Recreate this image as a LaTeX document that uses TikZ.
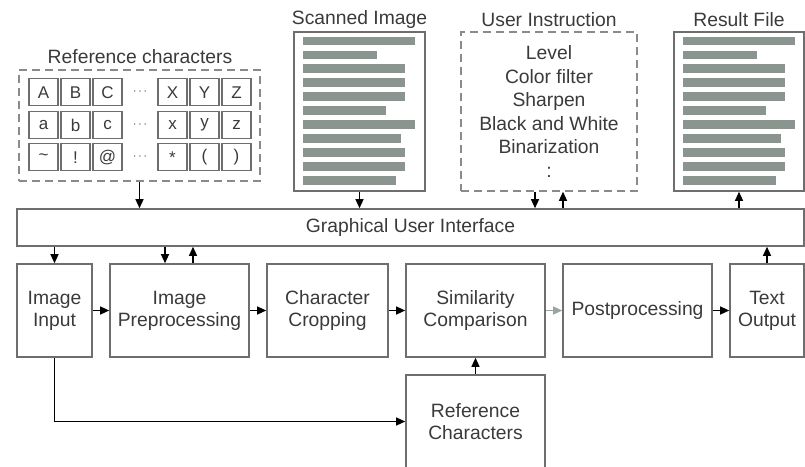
\documentclass[tikz,border=0pt]{standalone}
\usepackage{fontspec}
\setmainfont{Liberation Sans}
\usetikzlibrary{arrows.meta}
\definecolor{edge}{HTML}{6E6E6E}
\definecolor{txt}{HTML}{3A3A3A}
\definecolor{barc}{HTML}{8A958F}
\definecolor{dashc}{HTML}{8A8A8A}
\definecolor{lightarr}{HTML}{9AA59F}
\begin{document}
\begin{tikzpicture}[x=1pt,y=-1pt,
  box/.style={draw=edge, line width=1.6pt, text=txt, align=center, inner sep=0pt,
    font=\fontsize{19.3}{22}\selectfont},
  dbox/.style={draw=dashc, line width=1.5pt, dash pattern=on 8pt off 5pt, inner sep=0pt,
    text=txt, align=center, font=\fontsize{19.3}{23.6}\selectfont},
  title/.style={text=txt, inner sep=0pt, font=\fontsize{19.3}{22}\selectfont},
  cell/.style={draw=edge, line width=1.3pt, minimum width=29pt, minimum height=27pt,
    inner sep=0pt, text=txt, font=\fontsize{17}{20}\selectfont},
  arr/.style={-{Triangle[length=9pt,width=8pt]}, line width=1.2pt, black},
  garr/.style={-{Triangle[length=9pt,width=8pt]}, line width=1.2pt, lightarr}]
\useasboundingbox (0,0) rectangle (805,466);
\clip (0,0) rectangle (805,466);

% top items
\node[title] (t1) at (140,57) {Reference characters};
\node[title] (t2) at (359.5,20) {Scanned Image};
\node[title] (t3) at (549,20) {User Instruction};
\node[title] (t4) at (739,20) {Result File};

\node[dbox, minimum width=241pt, minimum height=111pt] (rcbox) at (139.5,125.5) {};
\foreach \x/\a/\b/\c [count=\j] in {43.5/A/a/\textasciitilde, 75.5/B/b/!, 107.5/C/c/@,
    172.5/X/x/*, 204.5/Y/y/{(}, 236.5/Z/z/{)}} {
  \node[cell] (ca\j) at (\x,92.3) {\a};
  \node[cell] (cb\j) at (\x,125) {\b};
  \node[cell] (cc\j) at (\x,157.3) {\c};
}
\foreach \y [count=\j] in {92.3,125,157.3}
  \node[text=txt, inner sep=0pt, font=\fontsize{12}{14}\selectfont] (dots\j) at (140,\y) {$\cdots$};

\node[box, minimum width=131pt, minimum height=159pt] (scan) at (359.5,111.5) {};
\node[dbox, minimum width=176pt, minimum height=159pt] (ui) at (549,111.5)
  {Level\\Color filter\\Sharpen\\Black and White\\Binarization\\:};
\node[box, minimum width=130pt, minimum height=159pt] (res) at (739,111.5) {};

\foreach \bx in {scan,res} {
  \begin{scope}[shift={(\bx.north west)}]
    \foreach \w [count=\i] in {112,74,102,102,102,83,112,98,102,102,93}
      \fill[barc] (10,{5.4+(\i-1)*13.93}) rectangle ({10+\w},{14.1+(\i-1)*13.93});
  \end{scope}
}

% GUI
\node[box, minimum width=787pt, minimum height=37pt] (gui) at (410.5,227.5) {Graphical User Interface};

% process row
\node[box, minimum width=75pt, minimum height=93pt] (in) at (54.5,310.5) {Image\\Input};
\node[box, minimum width=139pt, minimum height=93pt] (pre) at (179.5,310.5) {Image\\Preprocessing};
\node[box, minimum width=121pt, minimum height=93pt] (crop) at (327.5,310.5) {Character\\Cropping};
\node[box, minimum width=139pt, minimum height=93pt] (sim) at (475.5,310.5) {Similarity\\Comparison};
\node[box, minimum width=149pt, minimum height=93pt] (post) at (637.5,310.5) {Postprocessing};
\node[box, minimum width=74pt, minimum height=93pt] (out) at (767,310.5) {Text\\Output};
\node[box, minimum width=139pt, minimum height=93pt] (ref) at (475.5,421.5) {Reference\\Characters};

% connectors top
\draw[arr] (rcbox.south) -- (rcbox.south |- gui.north);
\draw[arr] (scan.south) -- (scan.south |- gui.north);
\coordinate (u1) at ([xshift=-14pt]ui.south);
\coordinate (u2) at ([xshift=14pt]ui.south);
\draw[arr] (u1) -- (u1 |- gui.north);
\draw[arr] (u2 |- gui.north) -- (u2);
\draw[arr] (res.south |- gui.north) -- (res.south);

% connectors GUI to row
\draw[arr] (in.north |- gui.south) -- (in.north);
\coordinate (p1) at ([xshift=-14.5pt]pre.north);
\coordinate (p2) at ([xshift=13.5pt]pre.north);
\draw[arr] (p1 |- gui.south) -- (p1);
\draw[arr] (p2) -- (p2 |- gui.south);
\draw[arr] (out.north) -- (out.north |- gui.south);

% row connectors
\draw[arr] (in.east) -- (pre.west);
\draw[arr] (pre.east) -- (crop.west);
\draw[arr] (crop.east) -- (sim.west);
\draw[garr] (sim.east) -- (post.west);
\draw[arr] (post.east) -- (out.west);
\draw[arr] (ref.north) -- (sim.south);
\draw[arr] (in.south) |- (ref.west);
\end{tikzpicture}
\end{document}
